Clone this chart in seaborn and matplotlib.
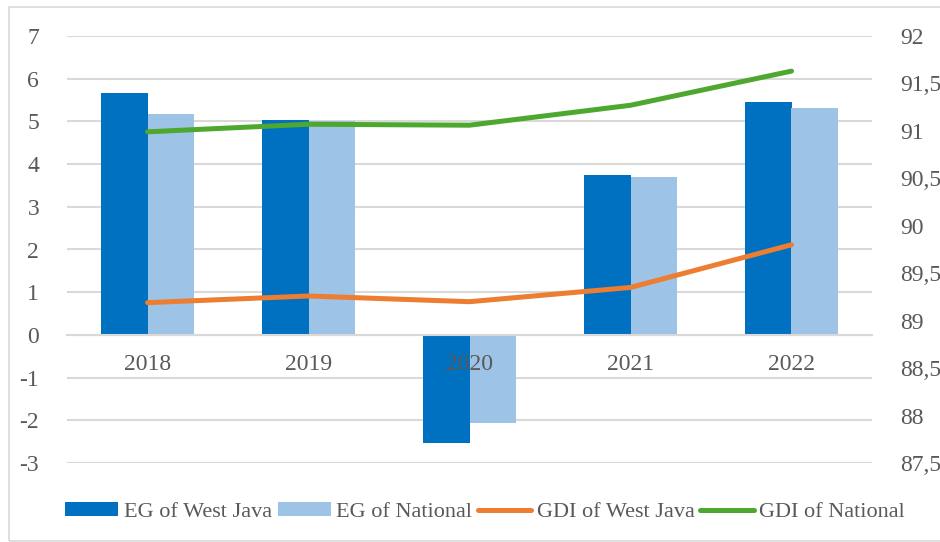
import numpy as np
import pandas as pd
import matplotlib
matplotlib.use("Agg")
import matplotlib.pyplot as plt
from matplotlib.ticker import FuncFormatter
from matplotlib.patches import Rectangle
import seaborn as sns

years = ["2018", "2019", "2020", "2021", "2022"]
eg_west_java = [5.66, 5.03, -2.52, 3.75, 5.46]
eg_national = [5.17, 5.02, -2.07, 3.70, 5.31]
gdi_west_java = [89.19, 89.26, 89.20, 89.35, 89.80]
gdi_national = [90.99, 91.07, 91.06, 91.27, 91.63]

left_ticks = [-3, -2, -1, 0, 1, 2, 3, 4, 5, 6, 7]
right_ticks = [87.5, 88, 88.5, 89, 89.5, 90, 90.5, 91, 91.5, 92]

labels = ["EG of West Java", "EG of National", "GDI of West Java", "GDI of National"]
colors = ["#0070C0", "#9DC3E6", "#ED7D31", "#4EA72E"]

sns.set_theme(style="white")
plt.rcParams["font.family"] = ["Liberation Serif", "DejaVu Serif"]
plt.rcParams["axes.unicode_minus"] = False
text_color = "#595959"
grid_color = "#D9D9D9"

bars = pd.DataFrame({
    "year": years * 2,
    "value": eg_west_java + eg_national,
    "series": [labels[0]] * len(years) + [labels[1]] * len(years),
})

fig = plt.figure(figsize=(9.4, 5.42), dpi=100)
ax = fig.add_axes([67 / 940, 1 - 463 / 542, (872 - 67) / 940, (463 - 36) / 542])

sns.barplot(data=bars, x="year", y="value", hue="series", hue_order=labels[:2],
            palette=dict(zip(labels[:2], colors[:2])), saturation=1,
            width=0.58, linewidth=0, ax=ax, legend=True)

ymin, ymax = left_ticks[0], left_ticks[-1]
ax.set_ylim(ymin, ymax)
ax.set_yticks(left_ticks)
ax.set_xlim(-0.5, len(years) - 0.5)
ax.set_axisbelow(True)
ax.grid(axis="y", color=grid_color, linewidth=1.5)
ax.grid(axis="x", visible=False)
for s in ["top", "left", "right"]:
    ax.spines[s].set_visible(False)
ax.spines["bottom"].set_position(("data", 0))
ax.spines["bottom"].set_color(grid_color)
ax.spines["bottom"].set_linewidth(1.5)
ax.tick_params(axis="x", length=0, labelbottom=False)
ax.tick_params(axis="y", length=0, pad=20, labelsize=17, labelcolor=text_color)
ax.set_xlabel("")
ax.set_ylabel("")
h1, l1 = ax.get_legend_handles_labels()
ax.get_legend().remove()

ax2 = ax.twinx()
xpos = np.arange(len(years))
lines = pd.DataFrame({
    "x": np.concatenate([xpos, xpos]),
    "value": gdi_west_java + gdi_national,
    "series": [labels[2]] * len(years) + [labels[3]] * len(years),
})
sns.lineplot(data=lines, x="x", y="value", hue="series", hue_order=labels[2:],
             palette=dict(zip(labels[2:], colors[2:])), linewidth=3.6,
             solid_capstyle="round", ax=ax2, legend=True)
ax2.set_ylim(right_ticks[0], right_ticks[-1])
ax2.set_yticks(right_ticks)
ax2.yaxis.set_major_formatter(FuncFormatter(lambda v, p: f"{v:g}".replace(".", ",")))
ax2.tick_params(axis="y", length=0, pad=20, labelsize=17, labelcolor=text_color)
ax2.set_xlim(-0.5, len(years) - 0.5)
ax2.grid(False)
for s in ax2.spines.values():
    s.set_visible(False)
# category labels next to the zero line, drawn above the bars
ax2.xaxis.set_visible(True)
ax2.spines["bottom"].set_position(("axes", (0 - ymin) / (ymax - ymin)))
ax2.set_xticks(xpos)
ax2.set_xticklabels(years)
ax2.tick_params(axis="x", length=0, pad=14, labelsize=17, labelcolor=text_color,
                labelbottom=True)
ax2.set_xlabel("")
ax2.set_ylabel("")
h2, l2 = ax2.get_legend_handles_labels()
ax2.get_legend().remove()
for h in h2:
    h.set_solid_capstyle("round")

fig.legend(h1 + h2, l1 + l2, loc="center", bbox_to_anchor=(485 / 940, 1 - 512 / 542),
           ncol=4, frameon=False, fontsize=16, handlelength=2.4, handleheight=0.6,
           handletextpad=0.25, columnspacing=0.25, labelcolor=text_color)

fig.patches.append(Rectangle((9 / 940, 1 / 542), 1.5, 1 - 8 / 542, transform=fig.transFigure,
                             fill=False, edgecolor=grid_color, linewidth=1.2))

fig.savefig("out.png", dpi=100)
